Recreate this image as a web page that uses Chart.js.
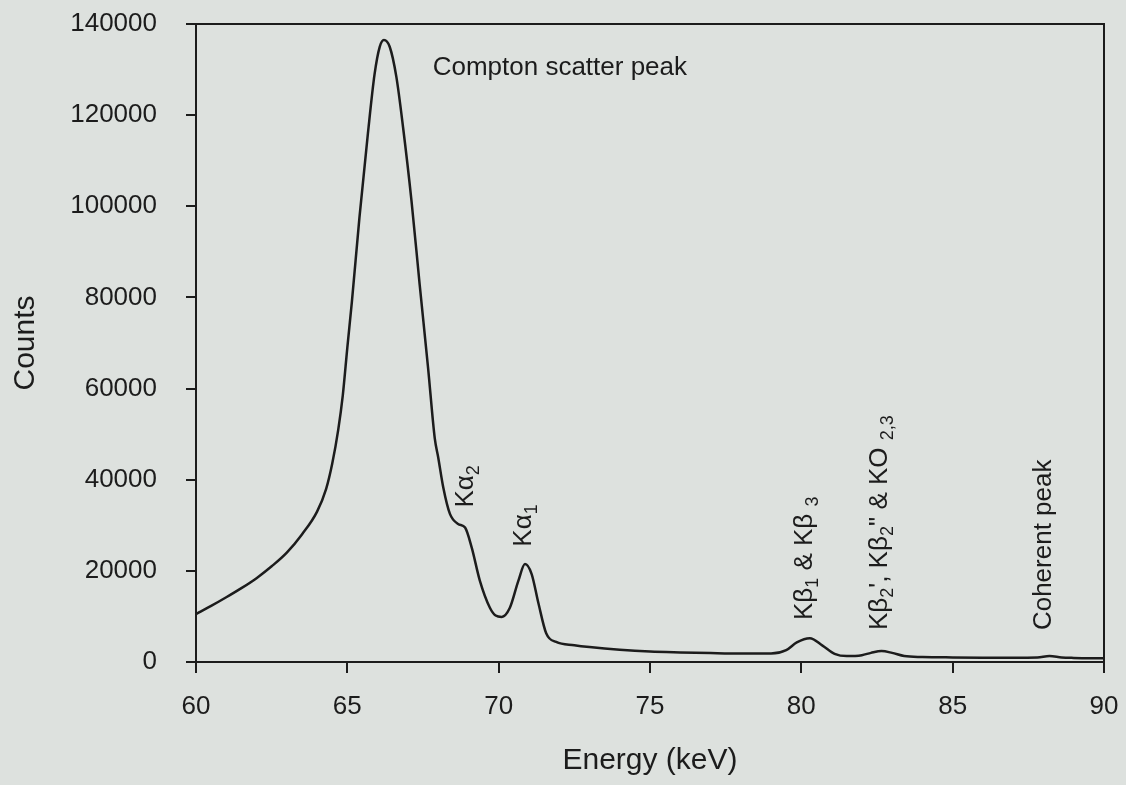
<!DOCTYPE html>
<html lang="en">
<head>
    <meta charset="UTF-8">
    <title>Spectrum - Counts vs Energy</title>
    <script src="https://cdn.jsdelivr.net/npm/chart.js"></script>
    <style>
        html, body {
            margin: 0;
            padding: 0;
            background-color: #dde1de;
        }

        .chart-box {
            width: 1126px;
            height: 785px;
        }
    </style>
</head>
<body>
    <div class="chart-box">
        <canvas id="spectrumChart" width="1126" height="785"></canvas>
    </div>

    <script>
        // Values (energy in keV, counts)
        const energy = [60.0, 60.5, 61.0, 61.5, 62.0, 62.5, 63.0, 63.5, 64.0, 64.3, 64.5, 64.7, 64.85, 65.0, 65.15, 65.4,
            65.68, 65.9, 66.07, 66.21, 66.4, 66.62, 66.84, 67.12, 67.39, 67.67, 67.89, 68.0, 68.17, 68.39, 68.66, 68.89,
            69.11, 69.38, 69.71, 69.9, 70.1, 70.37, 70.65, 70.87, 71.09, 71.31, 71.57, 71.9, 72.5, 73.0, 74.0, 75.0,
            76.0, 77.0, 78.0, 79.0, 79.5, 79.85, 80.28, 80.7, 81.1, 81.5, 82.0, 82.3, 82.65, 83.0, 83.4, 84.0,
            85.0, 86.0, 87.0, 87.8, 88.2, 88.6, 89.0, 90.0];
        const counts = [10500, 12300, 14200, 16200, 18400, 21000, 24000, 28000, 33000, 38000, 43500, 51000, 58500, 69000, 79000, 97500,
            116000, 129000, 135000, 136500, 135000, 128400, 117400, 101200, 82800, 64400, 49000, 45000, 38300, 32500, 30300, 29500,
            25100, 17800, 11900, 10200, 9900, 11900, 17800, 21500, 19300, 13000, 6300, 4400, 3700, 3300, 2700, 2300,
            2100, 1950, 1850, 1850, 2600, 4300, 5200, 3600, 1800, 1300, 1500, 2000, 2400, 2000, 1300, 1100,
            1000, 950, 950, 1000, 1300, 1000, 900, 800];

        const xTicks = [60, 65, 70, 75, 80, 85, 90];
        const yTicks = [0, 20000, 40000, 60000, 80000, 100000, 120000, 140000];

        // Peak labels: x = energy of the text baseline, y = counts where the text starts
        const peakLabels = [
            { x: 67.82, y: 128900, rotate: false, parts: [{ t: 'Compton scatter peak' }] },
            { x: 69.14, y: 33900, rotate: true, parts: [{ t: 'K\u03b1' }, { t: '2', sub: true }] },
            { x: 71.06, y: 25300, rotate: true, parts: [{ t: 'K\u03b1' }, { t: '1', sub: true }] },
            { x: 80.36, y: 9200, rotate: true, parts: [{ t: 'K\u03b2' }, { t: '1', sub: true }, { t: ' & K\u03b2 ' }, { t: '3', sub: true }] },
            { x: 82.84, y: 7000, rotate: true, parts: [{ t: 'K\u03b2' }, { t: '2', sub: true }, { t: '\', K\u03b2' }, { t: '2', sub: true }, { t: '" & KO ' }, { t: '2,3', sub: true }] },
            { x: 88.25, y: 7000, rotate: true, parts: [{ t: 'Coherent peak' }] },
        ];

        const FONT = '"Liberation Sans", Arial, sans-serif';
        const INK = '#1c1c1c';

        // Draws the frame (top and right sides) and the peak labels
        const framePlugin = {
            id: 'frameAndLabels',
            afterDraw(chart) {
                const { ctx, chartArea } = chart;
                const xs = chart.scales.x;
                const ys = chart.scales.y;

                ctx.save();
                ctx.strokeStyle = INK;
                ctx.lineWidth = 2;
                ctx.beginPath();
                ctx.moveTo(chartArea.left, chartArea.top);
                ctx.lineTo(chartArea.right, chartArea.top);
                ctx.lineTo(chartArea.right, chartArea.bottom);
                ctx.stroke();

                ctx.fillStyle = INK;
                ctx.textBaseline = 'alphabetic';
                ctx.textAlign = 'left';
                peakLabels.forEach(label => {
                    ctx.save();
                    ctx.translate(xs.getPixelForValue(label.x), ys.getPixelForValue(label.y));
                    if (label.rotate) {
                        ctx.rotate(-Math.PI / 2);
                    }
                    let pos = 0;
                    label.parts.forEach(part => {
                        ctx.font = part.sub ? '18px ' + FONT : '26px ' + FONT;
                        ctx.fillText(part.t, pos, part.sub ? 6 : 0);
                        pos += ctx.measureText(part.t).width;
                    });
                    ctx.restore();
                });
                ctx.restore();
            }
        };

        new Chart(document.getElementById('spectrumChart').getContext('2d'), {
            type: 'line',
            data: {
                datasets: [{
                    label: 'Counts',
                    data: energy.map((e, i) => ({ x: e, y: counts[i] })),
                    borderColor: INK,
                    borderWidth: 2.5,
                    pointRadius: 0,
                    cubicInterpolationMode: 'monotone',
                    fill: false,
                }],
            },
            options: {
                responsive: false,
                animation: false,
                layout: {
                    padding: { top: 24, right: 22, left: 0, bottom: 0 },
                },
                plugins: {
                    legend: { display: false },
                    tooltip: { enabled: false },
                },
                scales: {
                    x: {
                        type: 'linear',
                        min: 60,
                        max: 90,
                        afterBuildTicks: scale => {
                            scale.ticks = xTicks.map(v => ({ value: v }));
                        },
                        afterFit: scale => {
                            scale.height = 123;
                            scale.paddingLeft = 0;
                            scale.paddingRight = 0;
                        },
                        border: { display: true, color: INK, width: 2 },
                        grid: {
                            drawOnChartArea: false,
                            drawTicks: true,
                            tickLength: 11,
                            color: INK,
                            lineWidth: 2,
                        },
                        ticks: {
                            color: INK,
                            padding: 18,
                            maxRotation: 0,
                            font: { family: FONT, size: 26 },
                            callback: value => String(value),
                        },
                        title: {
                            display: true,
                            text: 'Energy (keV)',
                            color: INK,
                            font: { family: FONT, size: 30 },
                            padding: { top: 0, bottom: 6 },
                        },
                    },
                    y: {
                        min: 0,
                        max: 140000,
                        afterBuildTicks: scale => {
                            scale.ticks = yTicks.map(v => ({ value: v }));
                        },
                        afterFit: scale => {
                            scale.width = 196;
                            scale.paddingTop = 0;
                            scale.paddingBottom = 0;
                        },
                        border: { display: true, color: INK, width: 2 },
                        grid: {
                            drawOnChartArea: false,
                            drawTicks: true,
                            tickLength: 10,
                            color: INK,
                            lineWidth: 2,
                        },
                        ticks: {
                            color: INK,
                            padding: 29,
                            font: { family: FONT, size: 26 },
                            callback: value => String(value),
                        },
                        title: {
                            display: true,
                            text: 'Counts',
                            color: INK,
                            font: { family: FONT, size: 30 },
                            padding: { top: 8, bottom: 0 },
                        },
                    },
                },
            },
            plugins: [framePlugin],
        });
    </script>
</body>
</html>
